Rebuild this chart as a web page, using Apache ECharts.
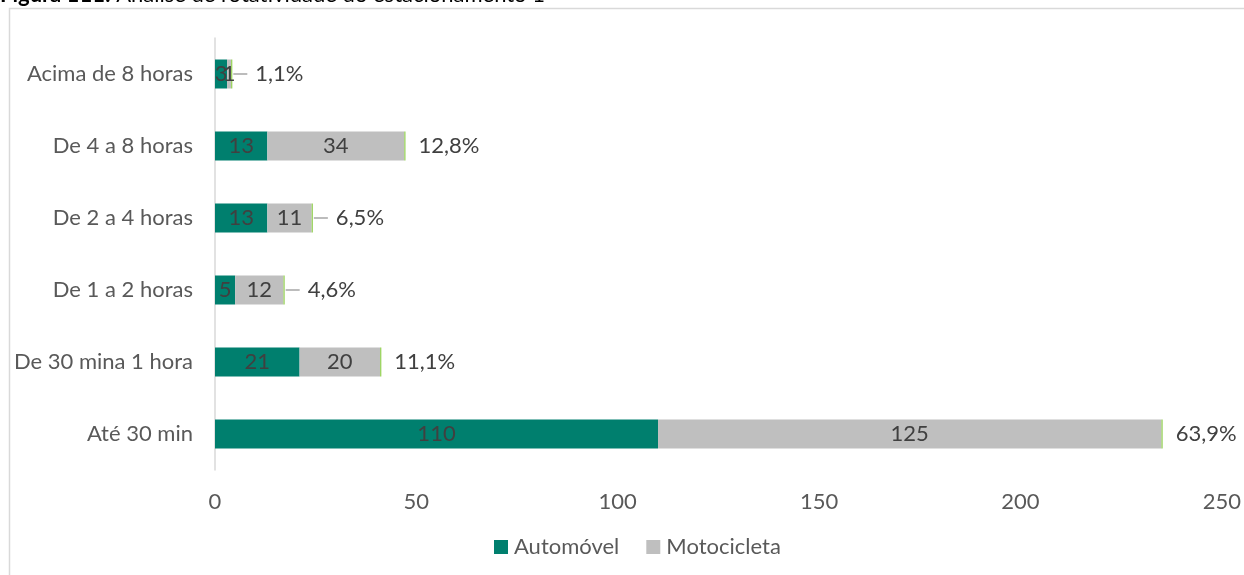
<!DOCTYPE html>
<html><head><meta charset="utf-8">
<script src="https://cdn.jsdelivr.net/npm/echarts@6/dist/echarts.min.js"></script>
<style>html,body{margin:0;padding:0;background:#fff}#c{width:1244px;height:575px}</style>
</head><body><div id="c"></div>
<script>
const categories = ['Até 30 min','De 30 mina 1 hora','De 1 a 2 horas','De 2 a 4 horas','De 4 a 8 horas','Acima de 8 horas'];
const automovel = [110, 21, 5, 13, 13, 3];
const motocicleta = [125, 20, 12, 11, 34, 1];
const percentLabels = ['63,9%','11,1%','4,6%','6,5%','12,8%','1,1%'];
const leaderLine = [false, false, true, true, false, true];
const xTicks = [0, 50, 100, 150, 200, 250];

const font = 'Lato, sans-serif';
const fs = 22;
const chart = echarts.init(document.getElementById('c'));
chart.setOption({
  animation: false,
  textStyle: { fontFamily: font },
  graphic: [
    { type: 'rect', shape: { x: 9.5, y: 8.5, width: 1300, height: 700 }, style: { fill: 'none', stroke: '#d9d9d9', lineWidth: 1.5 } },
    { type: 'text', left: 0, top: -16, style: { text: '{b|Figura 111:} Análise de rotatividade do estacionamento 1', fontSize: fs, fontFamily: font, fill: '#000',
      rich: { b: { fontWeight: 'bold', fontSize: fs, fontFamily: font, fill: '#000' } } } }
  ],
  legend: {
    bottom: 12, left: 489, itemWidth: 14, itemHeight: 14, itemGap: 27,
    icon: 'rect',
    data: ['Automóvel', 'Motocicleta'],
    textStyle: { color: '#595959', fontSize: fs, fontFamily: font, padding: [0, 0, 0, 1] }
  },
  grid: { left: 215, right: 22, top: 38, bottom: 105, containLabel: false },
  xAxis: {
    type: 'value', min: xTicks[0], max: xTicks[xTicks.length - 1], interval: 50,
    axisLine: { show: false }, axisTick: { show: false }, splitLine: { show: false },
    axisLabel: { color: '#595959', fontSize: fs, margin: 21, fontFamily: font }
  },
  yAxis: {
    type: 'category', data: categories,
    axisLine: { show: true, lineStyle: { color: '#d9d9d9', width: 1.5 } },
    axisTick: { show: false },
    axisLabel: { color: '#595959', fontSize: fs, margin: 22, fontFamily: font }
  },
  series: [
    { name: 'Automóvel', type: 'bar', stack: 's', data: automovel, barWidth: 29,
      itemStyle: { color: '#007F6E' },
      label: { show: true, position: 'inside', color: '#404040', fontSize: fs, fontFamily: font } },
    { name: 'Motocicleta', type: 'bar', stack: 's', data: motocicleta, barWidth: 29,
      itemStyle: { color: '#BFBFBF' },
      label: { show: true, position: 'inside', color: '#404040', fontSize: fs, fontFamily: font } },
    { name: 'Total', type: 'bar', stack: 's', barWidth: 29,
      data: categories.map((c, i) => ({ value: 0.3, label: { distance: leaderLine[i] ? 1 : 13 } })),
      itemStyle: { color: '#92D050' },
      label: { show: true, position: 'right', color: '#404040', fontSize: fs, fontFamily: font,
        formatter: p => leaderLine[p.dataIndex] ? '{l|}{s|}' + percentLabels[p.dataIndex] : percentLabels[p.dataIndex],
        rich: {
          l: { width: 14, height: 1.5, backgroundColor: '#a6a6a6' },
          s: { width: 8 }
        } } }
  ]
});
</script></body></html>
